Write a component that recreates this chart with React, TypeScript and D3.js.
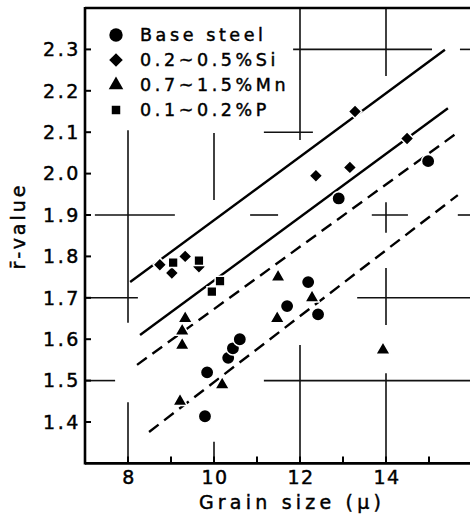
import * as d3 from 'd3';

// ── data ───────────────────────────────────────────────────────────────
// grain size (μ), r-value
const baseSteel: [number, number][] = [
  [9.79, 1.414], [9.84, 1.52], [10.33, 1.555], [10.44, 1.578], [10.6, 1.6],
  [11.7, 1.68], [12.19, 1.738], [12.42, 1.66], [12.9, 1.94], [14.98, 2.03],
];
const siSteel: [number, number][] = [
  [8.74, 1.78], [9.02, 1.76], [9.33, 1.8], [9.65, 1.775],
  [12.37, 1.995], [13.16, 2.015], [13.28, 2.15], [14.49, 2.085],
];
const mnSteel: [number, number][] = [
  [9.21, 1.45], [9.26, 1.585], [9.26, 1.62], [9.33, 1.65], [10.19, 1.49],
  [11.47, 1.65], [11.49, 1.75], [12.28, 1.7], [13.93, 1.574],
];
const pSteel: [number, number][] = [
  [9.05, 1.785], [9.65, 1.79], [9.95, 1.715], [10.14, 1.74],
];

// trend lines: [x0, y0, x1, y1], dashed?
const trendLines: { pts: [number, number, number, number]; dashed: boolean }[] = [
  { pts: [8.05, 1.738, 15.37, 2.299], dashed: false },
  { pts: [8.28, 1.61, 15.44, 2.158], dashed: false },
  { pts: [8.21, 1.538, 15.65, 2.098], dashed: true },
  { pts: [8.49, 1.376, 15.67, 1.948], dashed: true },
];

// broken background grid of the original graph paper
const vGrid: [number, number, number][] = [
  [8, 2.105, 1.64], [8, 1.448, 1.3],
  [10, 2.098, 1.936], [10, 1.352, 1.3],
  [12, 2.4, 2.081], [12, 1.586, 1.3],
  [14, 2.4, 2.236], [14, 1.931, 1.857], [14, 1.772, 1.634], [14, 1.518, 1.3],
];
const hGrid: [number, number, number][] = [
  [2.3, 11.84, 15.07], [2.3, 15.72, 16],
  [2.1, 11.16, 12.3],
  [1.9, 7.23, 9.09], [1.9, 10.84, 11.49], [1.9, 13.67, 14.51], [1.9, 15.67, 16],
  [1.7, 7, 8.23], [1.7, 13.33, 16],
  [1.5, 7, 7.7], [1.5, 11.16, 16],
];

const xTicks = [8, 10, 12, 14];
const xMinor = [9, 11, 13, 15];
const yTicks = [1.4, 1.5, 1.6, 1.7, 1.8, 1.9, 2.0, 2.1, 2.2, 2.3];
const legendLabels = ['Base steel', '0.2~0.5%Si', '0.7~1.5%Mn', '0.1~0.2%P'];

const W = 470, H = 517;
const FONT = '"DejaVu Sans", sans-serif';

const x = d3.scaleLinear().domain([7, 16]).range([85, 472]);
const y = d3.scaleLinear().domain([1.3, 2.4]).range([463.4, 8]);

const circle = d3.symbol(d3.symbolCircle, 140)();
const diamond = d3.symbol(d3.symbolSquare, 92)();
const triangle = d3.symbol(d3.symbolTriangle, 92)();
const square = d3.symbol(d3.symbolSquare, 95)();
const legendSquare = d3.symbol(d3.symbolSquare, 72)();

const series = [
  { data: baseSteel, path: circle, rot: 0 },
  { data: siSteel, path: diamond, rot: 45 },
  { data: mnSteel, path: triangle, rot: 0 },
  { data: pSteel, path: square, rot: 0 },
];

// scanned text looks heavy: a thin stroke thickens the glyphs
const inkText = { fill: '#000', stroke: '#000', strokeWidth: 0.45 };

export default function App() {
  const line = d3.line<[number, number]>().x(d => x(d[0])).y(d => y(d[1]));
  const left = x(7), bottom = y(1.3);

  return (
    <svg width={W} height={H} style={{ position: 'absolute', left: 0, top: 0, background: '#fff' }}
      fontFamily={FONT}>
      {/* grid fragments */}
      <g stroke="#111" strokeWidth={1.6}>
        {vGrid.map(([v, a, b], i) => (
          <line key={'v' + i} x1={x(v)} x2={x(v)} y1={y(a)} y2={y(b)} />
        ))}
        {hGrid.map(([v, a, b], i) => (
          <line key={'h' + i} x1={x(a)} x2={x(b)} y1={y(v)} y2={y(v)} />
        ))}
      </g>

      {/* trend lines */}
      <g fill="none" stroke="#000" strokeWidth={2.4}>
        {trendLines.map((l, i) => (
          <path key={i} d={line([[l.pts[0], l.pts[1]], [l.pts[2], l.pts[3]]]) ?? ''}
            strokeDasharray={l.dashed ? '12,7' : undefined} />
        ))}
      </g>

      {/* points */}
      {series.map((s, si) => (
        <g key={si} fill="#000" stroke="#fff" strokeWidth={1.5}>
          {s.data.map((d, i) => (
            <path key={i} d={s.path ?? ''}
              transform={`translate(${x(d[0])},${y(d[1])}) rotate(${s.rot})`} />
          ))}
        </g>
      ))}

      {/* frame: left axis, bottom axis, top border */}
      <g stroke="#000" strokeWidth={2.6} fill="none">
        <line x1={left} x2={left} y1={y(2.4) - 1} y2={bottom + 1} />
        <line x1={left} x2={W} y1={bottom} y2={bottom} />
        <line x1={left} x2={W} y1={y(2.4)} y2={y(2.4)} />
      </g>

      {/* y ticks */}
      <g>
        {yTicks.map(t => (
          <g key={t} transform={`translate(0,${y(t)})`}>
            <line x1={left} x2={left + 6} stroke="#000" strokeWidth={2} />
            <text x={81} dy="0.36em" textAnchor="end" fontSize={19} letterSpacing={2.6} {...inkText}>
              {t.toFixed(1)}
            </text>
          </g>
        ))}
      </g>

      {/* x ticks */}
      <g>
        {[...xTicks, ...xMinor].map(t => (
          <line key={t} x1={x(t)} x2={x(t)} y1={bottom} y2={bottom - 7} stroke="#000" strokeWidth={2} />
        ))}
        {xTicks.map(t => (
          <text key={t} x={x(t) + 1} y={bottom + 21} textAnchor="middle" fontSize={19} letterSpacing={1.5} {...inkText}>
            {t}
          </text>
        ))}
      </g>

      {/* axis titles */}
      <text x={292} y={509} textAnchor="middle" fontSize={19} letterSpacing={4.2} {...inkText}>
        Grain size (μ)
      </text>
      <text transform="translate(25,226) rotate(-90)" textAnchor="middle" fontSize={19} letterSpacing={3} {...inkText}>
        r̄-value
      </text>

      {/* legend */}
      <g>
        {series.map((s, i) => (
          <g key={i} transform={`translate(116,${35 + i * 25})`}>
            <path d={(i === 3 ? legendSquare : s.path) ?? ''} transform={`rotate(${s.rot})`} fill="#000" />
            <text x={24} dy="0.36em" fontSize={17.5} letterSpacing={3.6} {...inkText}>{legendLabels[i]}</text>
          </g>
        ))}
      </g>
    </svg>
  );
}
